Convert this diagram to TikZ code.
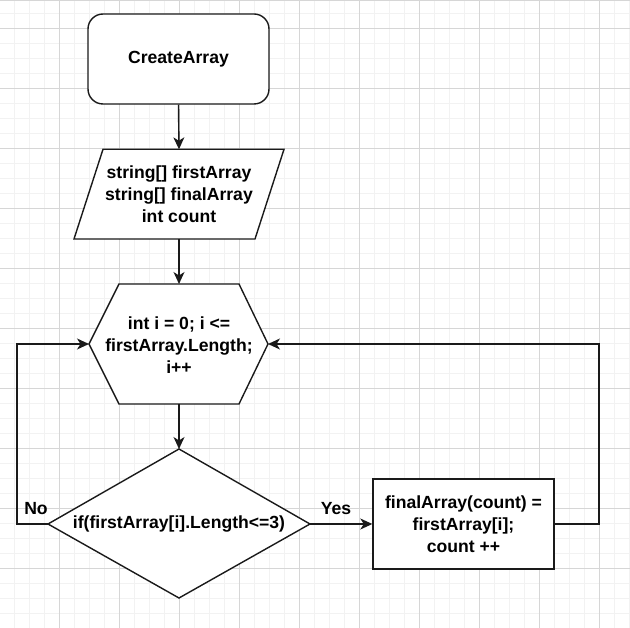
\documentclass[tikz,border=0pt]{standalone}
\usepackage{fontspec}
\setmainfont{Liberation Sans}
\usetikzlibrary{arrows.meta}
\definecolor{gridminor}{HTML}{F2F2F2}
\definecolor{gridmajor}{HTML}{D6D6D6}
\definecolor{ink}{HTML}{1A1A1A}
\begin{document}
\begin{tikzpicture}[x=1pt,y=-1pt,
  ln/.style={line width=1.4pt, draw=ink},
  conn/.style={ln, -{Stealth[length=12pt,width=11pt,inset=3.5pt]}},
  txt/.style={font=\bfseries\fontsize{17.6}{22}\selectfont, align=center, inner sep=0pt, text=black},
  boxnode/.style={ln, txt, fill=white},
  lbltxt/.style={font=\bfseries\fontsize{17.6}{22}\selectfont, inner sep=0pt, text=black},
]
\useasboundingbox (0,0) rectangle (630,628);
\fill[white] (0,0) rectangle (630,628);
% grid
\foreach \x in {14,29,...,629} \draw[gridminor, line width=0.8pt] (\x,0) -- (\x,628);
\foreach \y in {13,28,...,628} \draw[gridminor, line width=0.8pt] (0,\y) -- (630,\y);
\foreach \x in {59,119,...,629} \draw[gridmajor, line width=0.8pt] (\x,0) -- (\x,628);
\foreach \y in {28,88,...,628} \draw[gridmajor, line width=0.8pt] (0,\y) -- (630,\y);
\draw[gridmajor, line width=1pt] (0,0.5) -- (630,0.5);

% start node
\node[boxnode, draw, rounded corners=15pt, minimum width=181pt, minimum height=90pt] (start) at (178.5,59) {CreateArray};

% parallelogram (input)
\coordinate (inTop) at (179,149.3);
\coordinate (inBot) at (179,239);
\filldraw[ln, fill=white, line join=miter] (103,149.3) -- (284,149.3) -- (255,239) -- (74,239) -- cycle;
\node[txt] (input) at (179,194) {string[] firstArray\\string[] finalArray\\int count};

% hexagon (loop)
\coordinate (hexTop) at (179,284);
\coordinate (hexBot) at (179,404);
\coordinate (hexW) at (89,344);
\coordinate (hexE) at (268,344);
\filldraw[ln, fill=white, line join=miter] (hexW) -- (119,284) -- (239,284) -- (hexE) -- (239,404) -- (119,404) -- cycle;
\node[txt] (loop) at (179,345) {int i = 0; i <=\\firstArray.Length;\\i++};

% diamond (decision)
\coordinate (diaTop) at (179,449);
\coordinate (diaW) at (48,524);
\coordinate (diaE) at (310,524);
\filldraw[ln, fill=white, line join=miter] (diaTop) -- (diaE) -- (179,598) -- (diaW) -- cycle;
\node[txt] (cond) at (179,524) {if(firstArray[i].Length<=3)};

% process box
\node[boxnode, draw, minimum width=181pt, minimum height=90pt] (proc) at (463.5,524) {finalArray(count) =\\firstArray[i];\\count ++};

% connectors
\draw[conn] (start.south) -- (inTop);
\draw[conn] (inBot) -- (hexTop);
\draw[conn] (hexBot) -- (diaTop);
\coordinate (noA) at (17,524);
\coordinate (noB) at (17,344);
\draw[conn] (diaW) -- (noA) -- (noB) -- (hexW);
\draw[conn] (diaE) -- (proc.west);
\coordinate (backA) at (599,524);
\coordinate (backB) at (599,344);
\draw[conn] (proc.east) -- (backA) -- (backB) -- (hexE);

% labels
\node[lbltxt] (nolbl) at (36,509) {No};
\node[lbltxt] (yeslbl) at (336,509) {Yes};
\end{tikzpicture}
\end{document}
